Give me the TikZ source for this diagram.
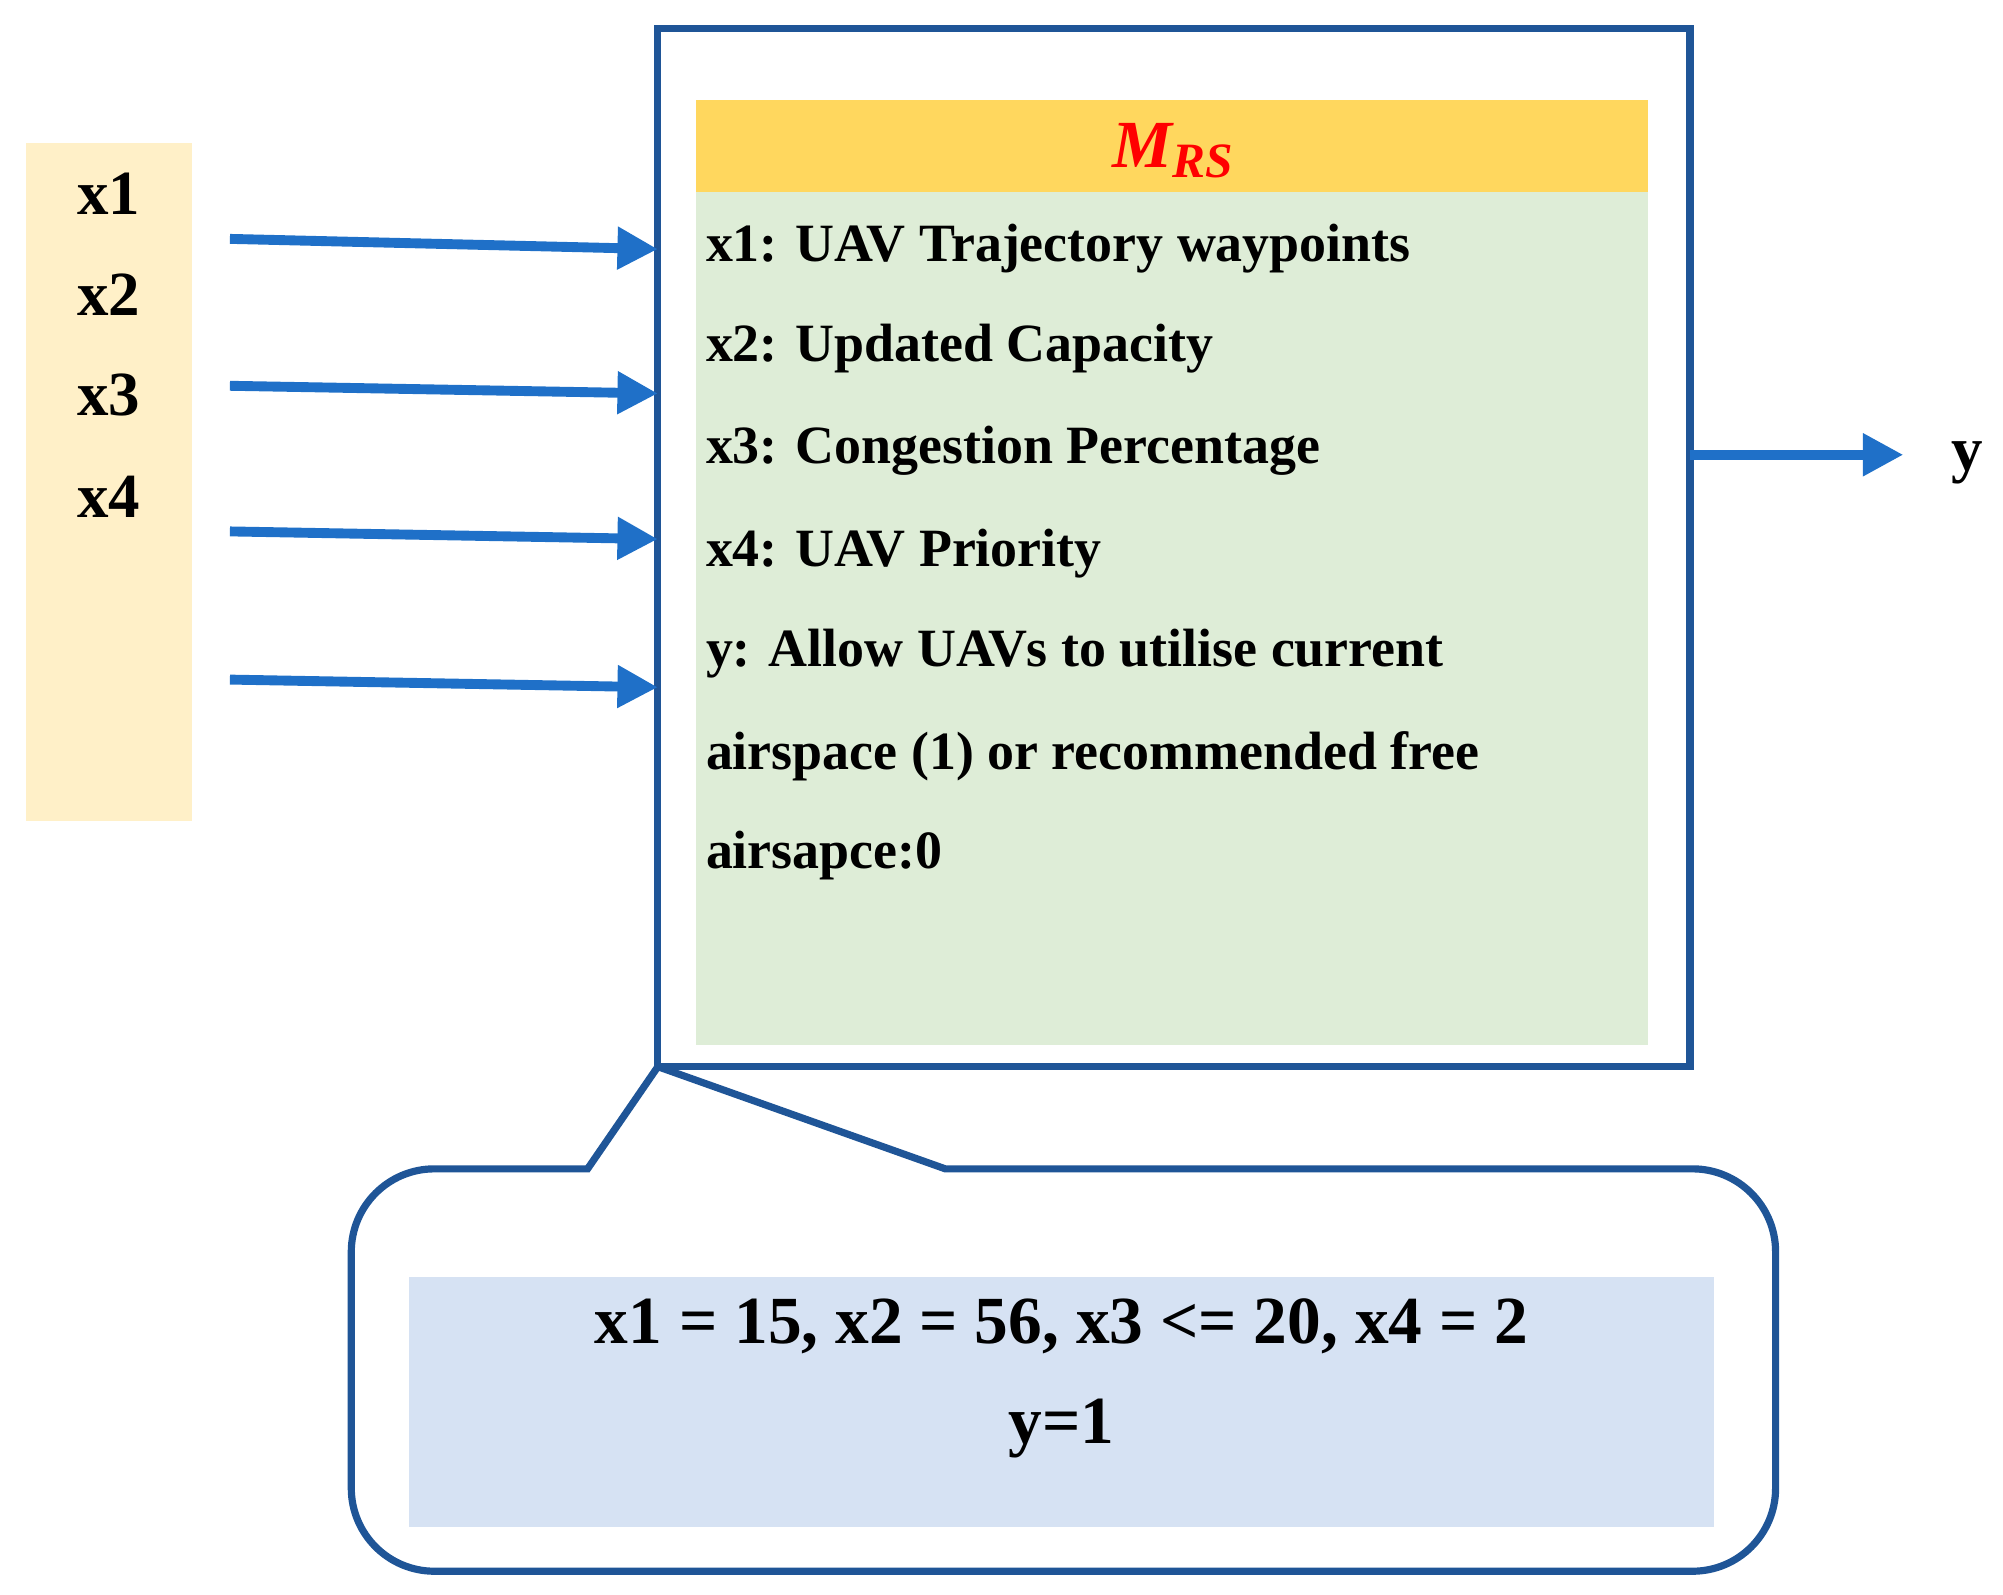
\documentclass[tikz,border=0pt]{standalone}
\usepackage{fontspec}
\setmainfont{Liberation Serif}
\usetikzlibrary{arrows.meta}
\definecolor{arrblue}{HTML}{1F70C8}
\definecolor{boxblue}{HTML}{1F5597}
\definecolor{beige}{HTML}{FFF0C8}
\definecolor{hdr}{HTML}{FFD75E}
\definecolor{grn}{HTML}{DEEDD7}
\definecolor{lblue}{HTML}{D6E2F3}
\begin{document}
\begin{tikzpicture}[x=0.01cm,y=-0.01cm,
  arr/.style={arrblue,line width=2.2pt,-{Triangle[length=9pt,width=9pt]}},
  lbl/.style={font=\fontsize{14pt}{16pt}\selectfont\bfseries,inner sep=0},
  txt/.style={font=\fontsize{12pt}{14pt}\selectfont\bfseries,anchor=west,inner sep=0}]
\useasboundingbox (0,0) rectangle (1568,1248);
\fill[beige] (20,112) rectangle (150,643);
\node[lbl] (l1) at (85,152) {x1};
\node[lbl] (l2) at (85,231) {x2};
\node[lbl] (l3) at (85,309) {x3};
\node[lbl] (l4) at (85,389) {x4};
\fill[grn] (545,150) rectangle (1290,818);
\fill[hdr] (545,78) rectangle (1290,150);
\draw[boxblue,line width=1.6pt] (515,22) rectangle (1323,835);
\node (box) at (919,428.5) [minimum width=8.08cm,minimum height=8.13cm,inner sep=0] {};
\node[font=\fontsize{15pt}{17pt}\selectfont\bfseries\itshape,text=red] (m) at (918,118) {M\raisebox{-0.35ex}{\fontsize{11pt}{12pt}\selectfont RS}};
\foreach \i/\a/\b in {1/187/195,2/302/308,3/416/422,4/532/538}{
  \coordinate (s\i) at (180,\a); \coordinate (e\i) at (515,\b);
  \draw[arr] (s\i) -- (e\i);}
\node[txt] (t1) at (552,195) {x1: UAV Trajectory waypoints};
\node[txt] (t2) at (552,273) {x2: Updated Capacity};
\node[txt] (t3) at (552,353) {x3: Congestion Percentage};
\node[txt] (t4) at (552,433) {x4: UAV Priority};
\node[txt] (t5) at (552,512) {y: Allow UAVs to utilise current};
\node[txt] (t6) at (552,592) {airspace (1) or recommended free};
\node[txt] (t7) at (552,670) {airsapce:0};
\coordinate (ro) at (1323,356);
\node[lbl] (y) at (1540,362) {y};
\draw[arr] (ro) -- (1490,356);
\draw[boxblue,line width=1.6pt] (515,835) -- (740,915) [rounded corners=0.65cm] -- (1390,915) -- (1390,1230) -- (275,1230) -- (275,915) [sharp corners] -- (460,915) -- cycle;
\fill[lblue] (320,1000) rectangle (1342,1195);
\node[font=\fontsize{15pt}{17pt}\selectfont\bfseries,inner sep=0] (c1) at (831,1038) {x1 = 15, x2 = 56, x3 <= 20, x4 = 2};
\node[font=\fontsize{15pt}{17pt}\selectfont\bfseries,inner sep=0] (c2) at (831,1118) {y=1};
\end{tikzpicture}
\end{document}
